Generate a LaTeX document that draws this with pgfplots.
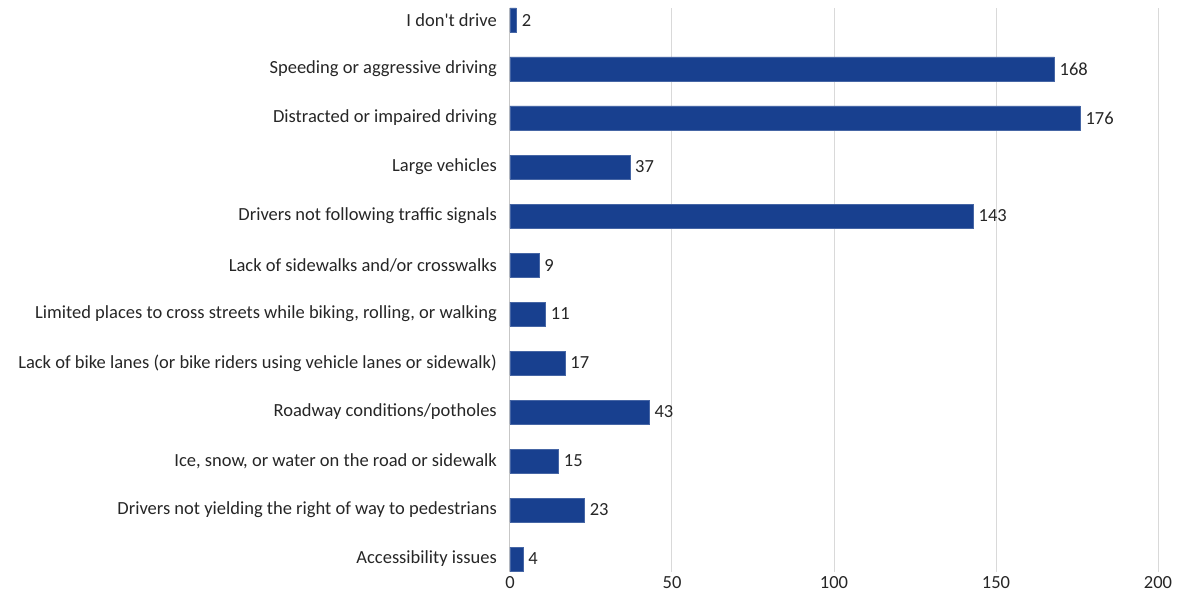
\documentclass[border=0pt]{standalone}
\usepackage{fontspec}
\setmainfont{Carlito}
\usepackage{pgfplots}
\pgfplotsset{compat=1.18}
\usetikzlibrary{calc}
\definecolor{barblue}{RGB}{24,64,143}
\definecolor{gridgray}{RGB}{217,217,217}
\definecolor{txt}{RGB}{38,38,38}

\begin{document}
\begin{tikzpicture}
\begin{axis}[
    xbar,
    width=648pt, height=564pt,
    scale only axis,
    xmin=0, xmax=200,
    ymin=-0.265, ymax=11.245,
    xtick={0,50,100,150,200},
    ytick={0,...,11},
    yticklabels={
        Accessibility issues,
        Drivers not yielding the right of way to pedestrians,
        {Ice, snow, or water on the road or sidewalk},
        Roadway conditions/potholes,
        Lack of bike lanes (or bike riders using vehicle lanes or sidewalk),
        {Limited places to cross streets while biking, rolling, or walking},
        Lack of sidewalks and/or crosswalks,
        Drivers not following traffic signals,
        Large vehicles,
        Distracted or impaired driving,
        Speeding or aggressive driving,
        I don\textquotesingle t drive},
    axis line style={draw=none},
    major tick length=0pt,
    xmajorgrids,
    grid style={gridgray, line width=1pt},
    extra x ticks={0},
    extra x tick labels={},
    extra x tick style={grid style={gridgray!80!gray, line width=1pt}},
    tick label style={font=\fontsize{18.5}{22}\selectfont, text=txt},
    yticklabel style={anchor=east, inner sep=0pt, xshift=-13pt},
    xticklabel style={anchor=north, inner sep=0pt, yshift=-4pt},
    /pgf/number format/assume math mode=true,
    bar width=0.49,
    nodes near coords,
    nodes near coords style={font=\fontsize{18.5}{22}\selectfont, text=txt, anchor=west, inner sep=0pt, xshift=5pt},
    clip=false,
]
\addplot[fill=barblue, draw=barblue!80!white, line width=0.6pt] coordinates {
    (4,0) (23,1) (15,2) (43,3) (17,4) (11,5) (9,6) (143,7) (37,8) (176,9) (168,10) (2,11)
};
\end{axis}
\pgfresetboundingbox
\path[use as bounding box] ($(current axis.south west)+(-510pt,-23pt)$) rectangle ($(current axis.north east)+(21pt,8pt)$);
\end{tikzpicture}
\end{document}
